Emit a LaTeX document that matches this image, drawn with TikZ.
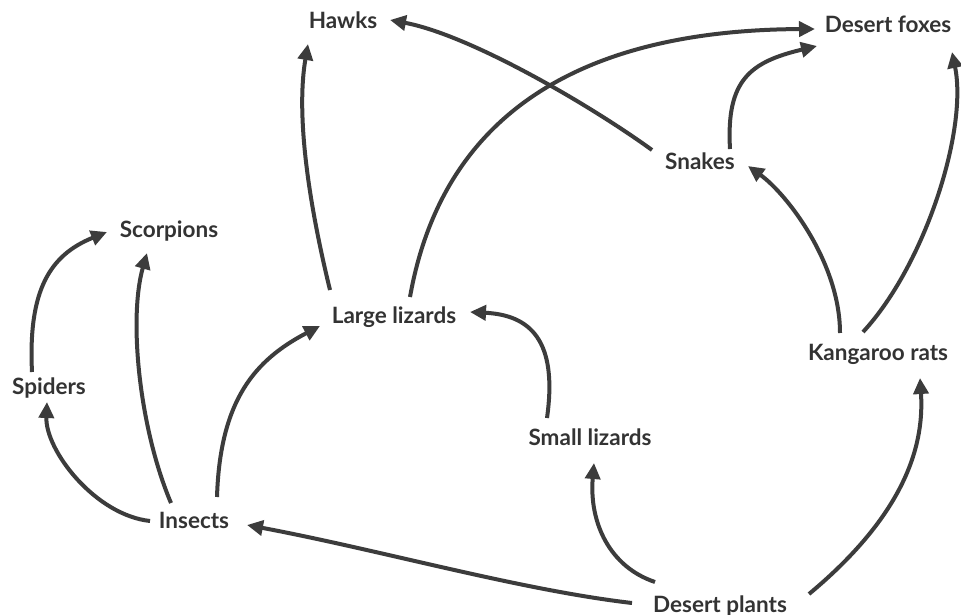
\documentclass[tikz,border=0pt]{standalone}
\usepackage{fontspec}
\setmainfont{Lato}
\usetikzlibrary{arrows.meta,calc}
\definecolor{edgecol}{HTML}{3C3C3C}
\definecolor{textcol}{HTML}{333333}
\tikzset{
  lbl/.style={anchor=base, inner sep=0pt, text=textcol, font=\bfseries\fontsize{22.5}{26}\selectfont},
  edge/.style={draw=edgecol, line width=4pt, -{Triangle[length=12pt 1, width=11pt 1]}}
}
\begin{document}
\begin{tikzpicture}[x=1pt,y=-1pt]
\useasboundingbox[fill=white] (0,0) rectangle (961,615);
% nodes
\node[lbl] (hawks)  at (343,29)  {Hawks};
\node[lbl] (foxes)  at (888,33)  {Desert foxes};
\node[lbl] (snakes) at (700,169) {Snakes};
\node[lbl] (scorp)  at (169,237) {Scorpions};
\node[lbl] (ll)     at (394,323) {Large lizards};
\node[lbl] (kr)     at (878,360) {Kangaroo rats};
\node[lbl] (spid)   at (49,394)  {Spiders};
\node[lbl] (sl)     at (590,445) {Small lizards};
\node[lbl] (ins)    at (194,528) {Insects};
\node[lbl] (dp)     at (720,612) {Desert plants};
% edges
\draw[edge] ($(ll.base)+(-64,-33)$) .. controls (308,200) and (296,114) .. ($(hawks.base)+(-35,15)$);
\draw[edge] ($(ll.base)+(16,-26)$) .. controls (445,100) and (600,30) .. ($(foxes.base)+(-73,-4)$);
\draw[edge] ($(snakes.base)+(-48,-19)$) .. controls (590,105) and (470,35) .. ($(hawks.base)+(47,-9)$);
\draw[edge] ($(snakes.base)+(30,-20)$) .. controls (726,80) and (750,62) .. ($(foxes.base)+(-71,13)$);
\draw[edge] ($(kr.base)+(-38,-27)$) .. controls (840,263) and (787,194) .. ($(snakes.base)+(48,-3)$);
\draw[edge] ($(kr.base)+(-15,-28)$) .. controls (925,265) and (968,130) .. ($(foxes.base)+(64,19)$);
\draw[edge] ($(dp.base)+(89,-18)$) .. controls (910,510) and (924,440) .. ($(kr.base)+(42,18)$);
\draw[edge] ($(dp.base)+(-65,-30)$) .. controls (610,567) and (589,523) .. ($(sl.base)+(4,18)$);
\draw[edge] ($(sl.base)+(-43,-27)$) .. controls (558,340) and (530,315) .. ($(ll.base)+(76,-11)$);
\draw[edge] ($(dp.base)+(-88,-9)$) .. controls (520,590) and (380,550) .. ($(ins.base)+(53,-3)$);
\draw[edge] ($(ins.base)+(-44,-7)$) .. controls (95,515) and (45,450) .. ($(spid.base)+(-2,8)$);
\draw[edge] ($(ins.base)+(-23,-25)$) .. controls (140,430) and (128,320) .. ($(scorp.base)+(-22,16)$);
\draw[edge] ($(ins.base)+(23,-31)$) .. controls (220,400) and (255,360) .. ($(ll.base)+(-74,3)$);
\draw[edge] ($(spid.base)+(-17,-22)$) .. controls (28,290) and (50,255) .. ($(scorp.base)+(-62,-5)$);
\end{tikzpicture}
\end{document}
